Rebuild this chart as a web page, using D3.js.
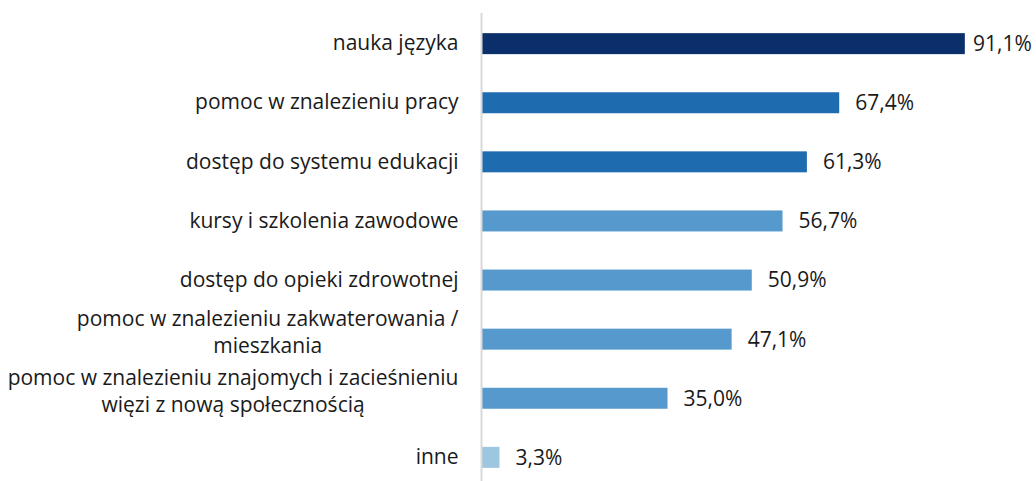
<!DOCTYPE html>
<html>
<head>
<meta charset="utf-8">
<script src="https://cdn.jsdelivr.net/npm/d3@7"></script>
<style>
  html, body { margin: 0; padding: 0; background: #fff; }
  svg { display: block; font-family: "Open Sans", "Noto Sans", sans-serif; }
</style>
</head>
<body>
<svg id="chart" width="1036" height="481"></svg>
<script>
// Forms of support indicated by respondents (% of answers)
const categories = [
  "nauka języka",
  "pomoc w znalezieniu pracy",
  "dostęp do systemu edukacji",
  "kursy i szkolenia zawodowe",
  "dostęp do opieki zdrowotnej",
  "pomoc w znalezieniu zakwaterowania / mieszkania",
  "pomoc w znalezieniu znajomych i zacieśnieniu więzi z nową społecznością",
  "inne"
];
const values = [91.1, 67.4, 61.3, 56.7, 50.9, 47.1, 35.0, 3.3];
const barColors = ["#0b2f6a", "#1f6bb0", "#1f6bb0", "#5599cd", "#5599cd", "#5599cd", "#5599cd", "#9dc6e0"];

const W = 1036, H = 481;
const fontSize = 21;
const svg = d3.select("#chart");

const x = d3.scaleLinear().domain([0, 100]).range([482, 1012]);
const y = d3.scaleBand().domain(categories).range([14, 487])
  .paddingInner(0.645).paddingOuter(0.324);

const data = categories.map((c, i) => ({ cat: c, value: values[i], color: barColors[i] }));

// bars
svg.append("g").selectAll("rect").data(data).join("rect")
  .attr("x", x(0))
  .attr("y", d => y(d.cat))
  .attr("width", d => x(d.value) - x(0))
  .attr("height", y.bandwidth())
  .attr("fill", d => d.color);

// category axis
const axis = svg.append("g")
  .attr("transform", `translate(${x(0) - 0.5},0)`)
  .call(d3.axisLeft(y).tickSize(0).tickPadding(23));
axis.select(".domain").attr("stroke", "#d9d9d9").attr("stroke-width", 2)
  .attr("d", `M0,13V${H}`);
axis.selectAll(".tick text")
  .attr("font-size", fontSize)
  .attr("font-family", "\"Open Sans\", \"Noto Sans\", sans-serif")
  .attr("fill", "#1a1a1a");

// wrap long category labels: lines centred with each other, block right-aligned
const maxW = 462, lineH = 27;
axis.selectAll(".tick text").each(function(d) {
  const t = d3.select(this);
  const words = d.split(" ");
  t.text(null);
  const probe = t.append("tspan");
  const measure = s => { probe.text(s); return probe.node().getComputedTextLength(); };
  const lines = [];
  let cur = [];
  for (const w of words) {
    if (cur.length && measure(cur.concat([w]).join(" ")) > maxW) {
      lines.push(cur.join(" "));
      cur = [w];
    } else cur.push(w);
  }
  lines.push(cur.join(" "));
  const ws = lines.map(measure);
  probe.remove();
  if (lines.length === 1) { t.text(lines[0]); return; }
  const blockW = Math.max(...ws);
  const xr = +t.attr("x");
  t.attr("text-anchor", "middle");
  lines.forEach((l, i) => {
    t.append("tspan")
      .attr("x", xr - blockW / 2)
      .attr("dy", i === 0 ? -((lines.length - 1) / 2) * lineH : lineH)
      .text(l);
  });
});

// value labels
svg.append("g").selectAll("text").data(data).join("text")
  .attr("x", d => Math.min(x(d.value) + 16, W - 63))
  .attr("y", d => y(d.cat) + y.bandwidth() / 2)
  .attr("dy", "0.35em")
  .attr("font-size", fontSize)
  .attr("fill", "#1a1a1a")
  .text(d => d.value.toFixed(1).replace(".", ",") + "%");
</script>
</body>
</html>
